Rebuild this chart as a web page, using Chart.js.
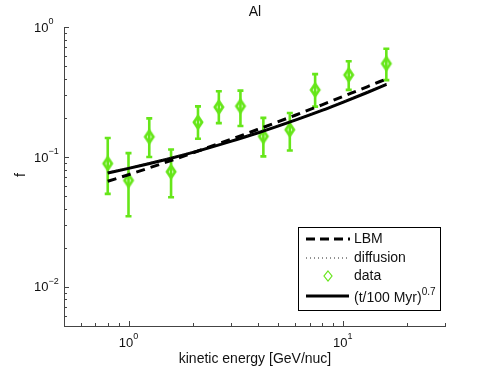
<!DOCTYPE html>
<html>
<head>
<meta charset="utf-8">
<script src="https://cdn.jsdelivr.net/npm/chart.js@4"></script>
<style>
  html, body { margin: 0; padding: 0; background: #fff; }
</style>
</head>
<body>
<canvas id="chart" width="491" height="369"></canvas>
<script>
// measured points (kinetic energy, fraction f, error bar ends)
const energy = [0.80, 1.00, 1.25, 1.58, 2.11, 2.64, 3.33, 4.26, 5.66, 7.43, 10.66, 15.97];
const fData  = [0.089, 0.066, 0.143, 0.077, 0.185, 0.242, 0.246, 0.144, 0.162, 0.328, 0.428, 0.523];
const fLow   = [0.052, 0.035, 0.100, 0.049, 0.138, 0.182, 0.173, 0.101, 0.112, 0.244, 0.328, 0.390];
const fHigh  = [0.140, 0.107, 0.198, 0.114, 0.245, 0.320, 0.324, 0.200, 0.218, 0.434, 0.545, 0.681];

// model curves
const modelEnergy = [0.8, 1, 1.5, 2, 3, 4, 6, 8, 10, 13, 16];
const lbm       = [0.0650, 0.0730, 0.0912, 0.1076, 0.1365, 0.1626, 0.2094, 0.2518, 0.2917, 0.3467, 0.3990];
const diffusion = [0.0765, 0.0830, 0.0972, 0.1101, 0.1338, 0.1551, 0.1948, 0.2314, 0.2670, 0.3180, 0.3668];
const powerLaw  = [0.0753, 0.0817, 0.0957, 0.1084, 0.1318, 0.1528, 0.1919, 0.2280, 0.2630, 0.3133, 0.3614];

// axis ticks
const xTicks = [1, 10];
const xTickExp = ['0', '1'];
const yTicks = [1, 0.1, 0.01];
const yTickExp = ['0', '\u22121', '\u22122'];

const green = '#66e619';
const FONT = '"Liberation Sans", Arial, sans-serif';

// hollow tall diamond marker
function makeDiamond(hw, hh, lw) {
  const c = document.createElement('canvas');
  c.width = hw * 2 + 8;
  c.height = hh * 2 + 8;
  const g = c.getContext('2d');
  const cx = c.width / 2, cy = c.height / 2;
  g.strokeStyle = green;
  g.lineWidth = lw;
  g.beginPath();
  g.moveTo(cx, cy - hh);
  g.lineTo(cx + hw, cy);
  g.lineTo(cx, cy + hh);
  g.lineTo(cx - hw, cy);
  g.closePath();
  g.stroke();
  return c;
}
const diamondImg = makeDiamond(4, 6, 2.8);

function pts(xs, ys) {
  return xs.map((x, i) => ({ x: x, y: ys[i] }));
}

const errorBars = {
  id: 'errorBars',
  beforeDatasetsDraw(chart) {
    const ctx = chart.ctx, xs = chart.scales.x, ys = chart.scales.y;
    ctx.save();
    ctx.strokeStyle = green;
    ctx.lineWidth = 2.6;
    energy.forEach((e, i) => {
      const px = xs.getPixelForValue(e);
      const lo = ys.getPixelForValue(fLow[i]);
      const hi = ys.getPixelForValue(fHigh[i]);
      ctx.beginPath();
      ctx.moveTo(px, lo); ctx.lineTo(px, hi);
      ctx.moveTo(px - 3, lo); ctx.lineTo(px + 3, lo);
      ctx.moveTo(px - 3, hi); ctx.lineTo(px + 3, hi);
      ctx.stroke();
    });
    ctx.restore();
  }
};

function powLabel(ctx, x, y, base, exp, size, expSize, align) {
  ctx.font = size + 'px ' + FONT;
  const wb = ctx.measureText(base).width;
  ctx.font = expSize + 'px ' + FONT;
  const we = ctx.measureText(exp).width;
  let x0 = align === 'center' ? x - (wb + we) / 2 : x;
  ctx.textAlign = 'left';
  ctx.textBaseline = 'middle';
  ctx.font = size + 'px ' + FONT;
  ctx.fillText(base, x0, y);
  ctx.font = expSize + 'px ' + FONT;
  ctx.fillText(exp, x0 + wb, y - 6);
}

const decorations = {
  id: 'decorations',
  afterDraw(chart) {
    const ctx = chart.ctx, xs = chart.scales.x, ys = chart.scales.y;
    const a = chart.chartArea;
    ctx.save();
    ctx.strokeStyle = '#444';
    ctx.lineWidth = 1;

    // minor and major ticks, pointing inside
    ctx.beginPath();
    for (let k = -3; k <= 1; k++) {
      for (let m = 1; m <= 9; m++) {
        const v = m * Math.pow(10, k);
        const len = m === 1 ? 5 : 3;
        if (v >= ys.min - 1e-9 && v <= ys.max + 1e-9) {
          const py = Math.round(ys.getPixelForValue(v)) + 0.5;
          ctx.moveTo(a.left, py); ctx.lineTo(a.left + len, py);
        }
        if (v >= xs.min - 1e-9 && v <= xs.max + 1e-9) {
          const px = Math.round(xs.getPixelForValue(v)) + 0.5;
          ctx.moveTo(px, a.bottom); ctx.lineTo(px, a.bottom - len);
        }
      }
    }
    ctx.stroke();

    ctx.fillStyle = '#111';
    // tick labels
    xTicks.forEach((v, i) => {
      powLabel(ctx, xs.getPixelForValue(v), 343, '10', xTickExp[i], 13, 9, 'center');
    });
    yTicks.forEach((v, i) => {
      powLabel(ctx, 34, ys.getPixelForValue(v) + 1, '10', yTickExp[i], 13, 9, 'left');
    });

    // title and axis labels
    ctx.font = '14px ' + FONT;
    ctx.textAlign = 'center';
    ctx.textBaseline = 'middle';
    ctx.fillText('Al', 255, 12);
    ctx.fillText('kinetic energy [GeV/nuc]', 255, 359);
    ctx.save();
    ctx.translate(21, 175);
    ctx.rotate(-Math.PI / 2);
    ctx.fillText('f', 0, 0);
    ctx.restore();

    // legend
    const lx = 298.5, ly = 227.5, lw = 142, lh = 83;
    ctx.fillStyle = '#fff';
    ctx.fillRect(lx, ly, lw, lh);
    ctx.strokeStyle = '#000';
    ctx.lineWidth = 1;
    ctx.strokeRect(lx, ly, lw, lh);

    const ds = chart.data.datasets;
    const rows = [239, 258, 276, 296];
    // LBM
    ctx.strokeStyle = '#000';
    ctx.lineWidth = 3;
    ctx.setLineDash([9, 5]);
    ctx.beginPath(); ctx.moveTo(306, rows[0]); ctx.lineTo(350, rows[0]); ctx.stroke();
    // diffusion
    ctx.lineWidth = 1;
    ctx.setLineDash([1, 3]);
    ctx.strokeStyle = '#222';
    ctx.beginPath(); ctx.moveTo(306, rows[1]); ctx.lineTo(350, rows[1]); ctx.stroke();
    // power law
    ctx.setLineDash([]);
    ctx.lineWidth = 3;
    ctx.strokeStyle = '#000';
    ctx.beginPath(); ctx.moveTo(306, rows[3]); ctx.lineTo(349, rows[3]); ctx.stroke();
    // data diamond
    ctx.strokeStyle = green;
    ctx.lineWidth = 1.2;
    ctx.beginPath();
    ctx.moveTo(328, rows[2] - 5); ctx.lineTo(332, rows[2]);
    ctx.lineTo(328, rows[2] + 5); ctx.lineTo(324, rows[2]);
    ctx.closePath(); ctx.stroke();

    ctx.fillStyle = '#111';
    ctx.font = '14px ' + FONT;
    ctx.textAlign = 'left';
    ctx.textBaseline = 'middle';
    ctx.fillText(ds[0].label, 354, rows[0]);
    ctx.fillText(ds[1].label, 354, rows[1]);
    ctx.fillText(ds[3].label, 354, rows[2]);
    powLabel(ctx, 354, rows[3] + 2, '(t/100 Myr)', '0.7', 14, 10, 'left');
    ctx.restore();
  }
};

new Chart(document.getElementById('chart'), {
  type: 'scatter',
  data: {
    datasets: [
      {
        label: 'LBM',
        data: pts(modelEnergy, lbm),
        showLine: true,
        borderColor: '#000',
        borderWidth: 3,
        borderDash: [9, 6],
        pointRadius: 0,
        cubicInterpolationMode: 'monotone'
      },
      {
        label: 'diffusion',
        data: pts(modelEnergy, diffusion),
        showLine: true,
        borderColor: '#222',
        borderWidth: 1,
        borderDash: [1, 3],
        pointRadius: 0,
        cubicInterpolationMode: 'monotone'
      },
      {
        label: '(t/100 Myr)^0.7',
        data: pts(modelEnergy, powerLaw),
        showLine: true,
        borderColor: '#000',
        borderWidth: 3,
        pointRadius: 0,
        cubicInterpolationMode: 'monotone'
      },
      {
        label: 'data',
        data: pts(energy, fData),
        showLine: false,
        pointStyle: diamondImg,
        pointRadius: 7
      }
    ]
  },
  options: {
    responsive: false,
    animation: false,
    layout: { padding: { left: 64, right: 46, top: 27, bottom: 43 } },
    plugins: {
      legend: { display: false },
      tooltip: { enabled: false },
      title: { display: false }
    },
    scales: {
      x: {
        type: 'logarithmic',
        min: 0.5,
        max: 30,
        ticks: { display: false },
        grid: { display: false, drawTicks: false },
        border: { display: true, color: '#444', width: 1 },
        afterFit(s) { s.height = 0; }
      },
      y: {
        type: 'logarithmic',
        min: 0.005,
        max: 1,
        ticks: { display: false },
        grid: { display: false, drawTicks: false },
        border: { display: true, color: '#444', width: 1 },
        afterFit(s) { s.width = 0; }
      }
    }
  },
  plugins: [errorBars, decorations]
});
</script>
</body>
</html>
